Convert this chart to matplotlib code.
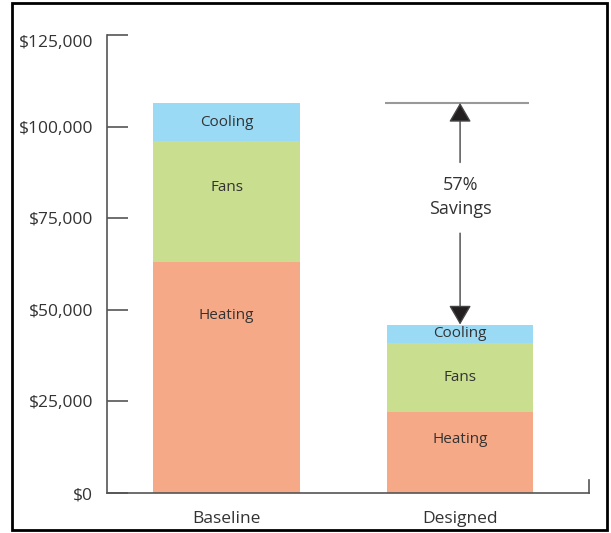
import matplotlib.pyplot as plt
from matplotlib.patches import Rectangle

# data
scenarios = ['Baseline', 'Designed']
heating = [63000, 22000]
fans = [33000, 19000]
cooling = [10500, 5000]
segment_names = ['Heating', 'Fans', 'Cooling']
y_ticks = [0, 25000, 50000, 75000, 100000, 125000]
y_tick_labels = ['$0', '$25,000', '$50,000', '$75,000', '$100,000', '$125,000']

colors = ['#f6a987', '#c9de8f', '#9adaf5']
# where each label sits inside its segment (fraction of segment height)
label_frac = [[0.77, 0.62, 0.5], [0.66, 0.5, 0.5]]

plt.rcParams['font.family'] = ['Open Sans', 'DejaVu Sans']
text_color = '#333333'
axis_color = '#555555'

fig = plt.figure(figsize=(6.11, 5.33), dpi=100)
ax = fig.add_axes([0.175, 0.075, 0.789, 0.859])

x = [0, 1]
width = 0.627
bottoms = [0, 0]
for name, vals, col, k in zip(segment_names, [heating, fans, cooling], colors, range(3)):
    ax.bar(x, vals, width, bottom=bottoms, color=col, edgecolor='none')
    for i in range(2):
        ax.text(x[i], bottoms[i] + vals[i] * label_frac[i][k], name,
                ha='center', va='center', fontsize=11, color=text_color)
    bottoms = [b + v for b, v in zip(bottoms, vals)]

base_total, design_total = bottoms
savings = 1 - design_total / base_total

# reference line at baseline total above the designed bar
ax.plot([1 - width / 2 - 0.01, 1 + width / 2 - 0.02], [base_total, base_total],
        color='#999999', lw=1.5, solid_capstyle='butt')

mid = (base_total + design_total) / 2 + 4500
arrow_kw = dict(arrowstyle='-|>,head_length=0.6,head_width=0.35', mutation_scale=20,
                fc='#231f20', ec='#444444', lw=1.0, shrinkA=0, shrinkB=0)
ax.annotate('', xy=(1, base_total), xytext=(1, mid + 9500), arrowprops=arrow_kw)
ax.annotate('', xy=(1, design_total), xytext=(1, mid - 9800), arrowprops=arrow_kw)
ax.text(1, mid, f'{savings:.0%}\nSavings', ha='center', va='center',
        fontsize=13, color=text_color, linespacing=1.45)

ax.set_xlim(-0.512, 1.552)
ax.set_ylim(0, 125000)
ax.set_yticks(y_ticks)
ax.set_yticklabels(y_tick_labels)
ax.set_xticks(x)
ax.set_xticklabels(scenarios)
ax.tick_params(axis='y', direction='in', length=15, width=1.2, color=axis_color,
               pad=10, labelsize=12.5, labelcolor=text_color)
ax.tick_params(axis='x', length=0, pad=13, labelsize=12.5, labelcolor=text_color)
for lbl in ax.get_yticklabels():
    if lbl.get_text() == '$125,000':
        lbl.set_va('top')

ax.spines['top'].set_visible(False)
ax.spines['right'].set_bounds(0, 3500)
for s in ['left', 'bottom', 'right']:
    ax.spines[s].set_color(axis_color)
    ax.spines[s].set_linewidth(1.2)

fig.patches.append(Rectangle((12 / 611, 3 / 533), 595 / 611, 527 / 533,
                             transform=fig.transFigure, fill=False,
                             edgecolor='black', lw=2))

fig.savefig('out.png', dpi=100)
